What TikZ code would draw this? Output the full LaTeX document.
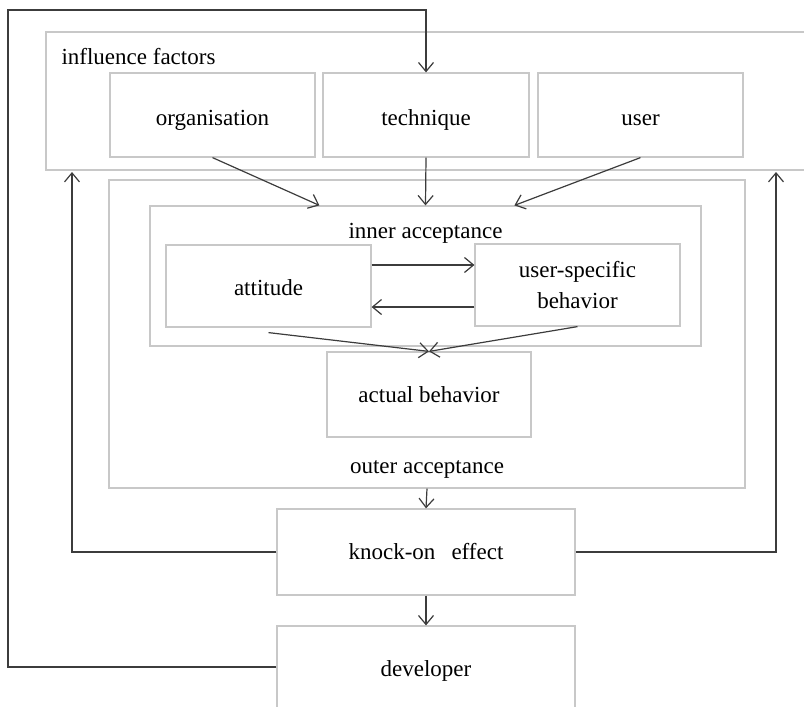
\documentclass[tikz,border=0pt]{standalone}
\usepackage{fontspec}
\setmainfont{Liberation Serif}
\usetikzlibrary{arrows.meta}
\definecolor{boxgray}{HTML}{C8C8C8}
\definecolor{linegray}{HTML}{3C3C3C}
% lower a label inside its box without changing the box size
\newcommand{\lowered}[2]{\raisebox{-#1}[\height][\depth]{#2}}
\begin{document}
\begin{tikzpicture}[x=1pt,y=-1pt,
  every node/.style={font=\fontsize{23}{31}\selectfont, text=black},
  box/.style={draw=boxgray, line width=1.2pt, inner sep=0pt, align=center},
  flow/.style={draw=linegray, line width=1.2pt,
    -{Straight Barb[length=9pt,width=15pt,line width=1.2pt]}}]
\useasboundingbox (0,0) rectangle (804,707);

% influence factors group
\node[box, minimum width=774pt, minimum height=138pt] (infl) at (433,101) {};
\node[anchor=west] (infltxt) at (58,57) {influence factors};
\node[box, minimum width=205pt, minimum height=84pt] (org) at (212.5,115) {\lowered{5pt}{organisation}};
\node[box, minimum width=206pt, minimum height=84pt] (tech) at (426,115) {\lowered{5pt}{technique}};
\node[box, minimum width=205pt, minimum height=84pt] (usr) at (640.5,115) {\lowered{5pt}{user}};

% acceptance
\node[box, minimum width=636pt, minimum height=308pt] (outer) at (427,334) {};
\node (outertxt) at (427,469) {outer acceptance};
\node[box, minimum width=551pt, minimum height=140pt] (inner) at (425.5,276) {};
\node (innertxt) at (425.5,233) {inner acceptance};
\node[box, minimum width=205pt, minimum height=82pt] (att) at (268.5,286) {\lowered{2pt}{attitude}};
\node[box, minimum width=205pt, minimum height=82pt] (usb) at (577.5,285) {user-specific\\behavior};
\node[box, minimum width=204pt, minimum height=85pt] (act) at (429,394.5) {actual behavior};

% effects
\node[box, minimum width=298pt, minimum height=86pt] (knock) at (426,552) {knock-on\hspace{0.45em} effect};
\node[box, minimum width=298pt, minimum height=86pt] (dev) at (426,669) {\lowered{2pt}{developer}};

% feedback corners
\coordinate (lt) at (72,172);
\coordinate (rt) at (776,172);
\coordinate (corner) at (8,10);

% influence factors -> inner acceptance
\draw[flow] (org.south) -- ([xshift=170pt]inner.north west);
\draw[flow] (tech.south) -- (inner.north);
\draw[flow] (usr.south) -- ([xshift=365pt]inner.north west);

% inside inner acceptance
\draw[flow] ([yshift=21pt]att.east) -- ([yshift=21pt]att.east -| usb.west);
\draw[flow] ([yshift=-22pt]usb.west) -- ([yshift=-22pt]usb.west -| att.east);
\draw[flow] ([yshift=-5pt]att.south) -- (act.north);
\draw[flow] (usb.south) -- (act.north);

% downward chain
\draw[flow] (outer.south) -- (knock.north);
\draw[flow] (knock.south) -- (dev.north);

% feedback loops
\draw[flow] (knock.west) -| (lt);
\draw[flow] (knock.east) -| (rt);
\draw[flow] ([yshift=2pt]dev.west) -| (corner) -| (tech.north);
\end{tikzpicture}
\end{document}
